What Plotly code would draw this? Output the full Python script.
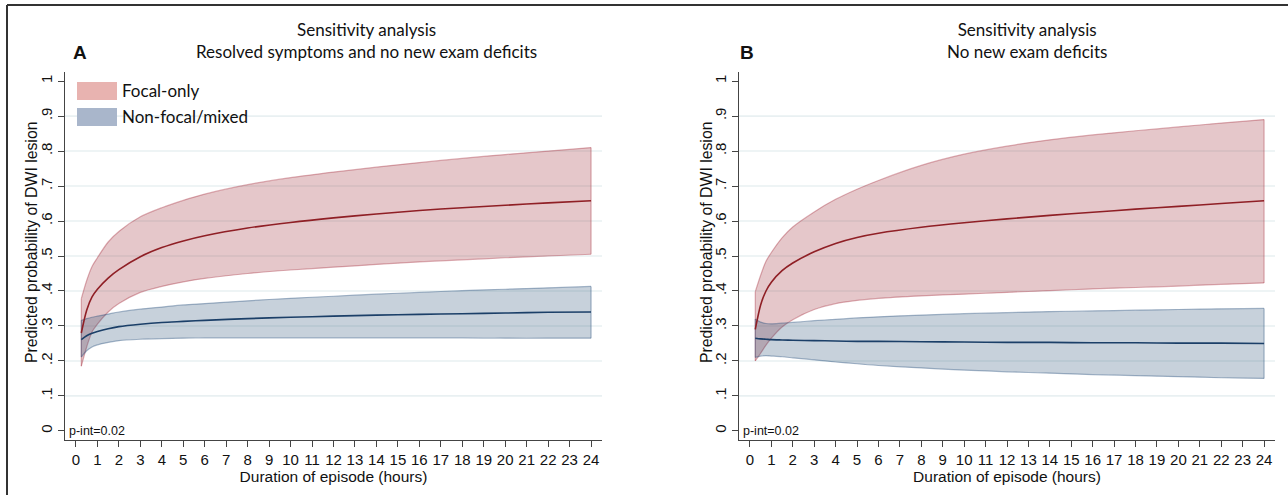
import plotly.graph_objects as go

# ---------------- data ----------------
hours = [0.25, 0.5, 0.75, 1, 1.5, 2, 3, 4, 5, 6, 8, 10, 12, 14, 16, 18, 20, 22, 24]

# Panel A: Resolved symptoms and no new exam deficits
a_focal_mid = [0.28, 0.345, 0.383, 0.405, 0.437, 0.461, 0.498, 0.524, 0.543, 0.558, 0.58, 0.596, 0.609, 0.62, 0.63, 0.638, 0.645, 0.652, 0.658]
a_focal_hi = [0.378, 0.43, 0.47, 0.495, 0.54, 0.57, 0.612, 0.638, 0.659, 0.677, 0.704, 0.724, 0.74, 0.754, 0.767, 0.779, 0.79, 0.80, 0.81]
a_focal_lo = [0.185, 0.24, 0.283, 0.305, 0.34, 0.364, 0.396, 0.413, 0.426, 0.436, 0.45, 0.46, 0.468, 0.476, 0.483, 0.489, 0.495, 0.50, 0.505]
a_nonf_mid = [0.261, 0.272, 0.279, 0.284, 0.292, 0.298, 0.305, 0.31, 0.313, 0.316, 0.321, 0.325, 0.328, 0.331, 0.333, 0.335, 0.337, 0.339, 0.34]
a_nonf_hi = [0.316, 0.321, 0.325, 0.328, 0.334, 0.34, 0.348, 0.354, 0.36, 0.364, 0.372, 0.379, 0.385, 0.391, 0.396, 0.401, 0.405, 0.409, 0.413]
a_nonf_lo = [0.211, 0.229, 0.24, 0.246, 0.253, 0.258, 0.262, 0.264, 0.265, 0.266, 0.266, 0.266, 0.266, 0.266, 0.266, 0.266, 0.265, 0.265, 0.265]

# Panel B: No new exam deficits
b_focal_mid = [0.29, 0.36, 0.40, 0.425, 0.458, 0.48, 0.512, 0.536, 0.553, 0.565, 0.582, 0.595, 0.606, 0.616, 0.625, 0.634, 0.642, 0.65, 0.658]
b_focal_hi = [0.398, 0.445, 0.485, 0.51, 0.552, 0.583, 0.626, 0.662, 0.691, 0.716, 0.759, 0.791, 0.814, 0.832, 0.846, 0.858, 0.869, 0.88, 0.89]
b_focal_lo = [0.20, 0.222, 0.245, 0.265, 0.297, 0.318, 0.347, 0.364, 0.373, 0.379, 0.386, 0.391, 0.396, 0.401, 0.406, 0.41, 0.414, 0.419, 0.423]
b_nonf_mid = [0.265, 0.263, 0.262, 0.261, 0.26, 0.259, 0.258, 0.257, 0.256, 0.256, 0.255, 0.254, 0.253, 0.253, 0.252, 0.252, 0.251, 0.251, 0.25]
b_nonf_hi = [0.32, 0.311, 0.307, 0.306, 0.308, 0.31, 0.315, 0.319, 0.323, 0.326, 0.331, 0.335, 0.338, 0.341, 0.343, 0.345, 0.347, 0.349, 0.35]
b_nonf_lo = [0.21, 0.214, 0.215, 0.214, 0.212, 0.209, 0.203, 0.197, 0.192, 0.187, 0.18, 0.174, 0.169, 0.165, 0.161, 0.158, 0.155, 0.152, 0.15]

x_ticks = list(range(0, 25))
y_tick_vals = [0, 0.1, 0.2, 0.3, 0.4, 0.5, 0.6, 0.7, 0.8, 0.9, 1]
y_tick_text = ["0", ".1", ".2", ".3", ".4", ".5", ".6", ".7", ".8", ".9", "1"]
grid_vals = [0.1, 0.2, 0.3, 0.4, 0.5, 0.6, 0.7, 0.8, 0.9]

panel_titles = ["Sensitivity analysis<br>Resolved symptoms and no new exam deficits",
                "Sensitivity analysis<br>No new exam deficits"]
panel_letters = ["A", "B"]
legend_names = ["Focal-only", "Non-focal/mixed"]
p_int_text = "p-int=0.02"
x_title = "Duration of episode (hours)"
y_title = "Predicted probability of DWI lesion"

# ---------------- styles ----------------
W, H = 1288, 495
RED_FILL = "rgba(150,30,45,0.25)"
RED_EDGE = "rgba(165,45,60,0.38)"
RED_LINE = "#8f1f25"
BLUE_FILL = "rgba(30,70,110,0.25)"
BLUE_EDGE = "rgba(40,80,125,0.40)"
BLUE_LINE = "#1b3f68"
AX_FONT = "Liberation Sans, Arial, sans-serif"
TITLE_FONT = "Lato, Calibri, sans-serif"

fig = go.Figure()


def band(xa, ya, lo, hi, fill, edge):
    fig.add_trace(go.Scatter(
        x=hours, y=lo, mode="lines", line=dict(color=edge, width=1.2, shape="spline", smoothing=0.8),
        xaxis=xa, yaxis=ya, hoverinfo="skip", showlegend=False))
    fig.add_trace(go.Scatter(
        x=hours, y=hi, mode="lines", fill="tonexty", fillcolor=fill,
        line=dict(color=edge, width=1.2, shape="spline", smoothing=0.8),
        xaxis=xa, yaxis=ya, hoverinfo="skip", showlegend=False))


def band_ends(xa, ya, lo, hi, edge):
    for i in (0, -1):
        fig.add_trace(go.Scatter(
            x=[hours[i], hours[i]], y=[lo[i], hi[i]], mode="lines",
            line=dict(color=edge, width=1.2), xaxis=xa, yaxis=ya,
            hoverinfo="skip", showlegend=False))


def line(xa, ya, mid, color):
    fig.add_trace(go.Scatter(
        x=hours, y=mid, mode="lines", line=dict(color=color, width=1.6, shape="spline", smoothing=0.8),
        xaxis=xa, yaxis=ya, hoverinfo="skip", showlegend=False))


for xa, ya, fl, fm, fh, nl, nm, nh in [
        ("x", "y", a_focal_lo, a_focal_mid, a_focal_hi, a_nonf_lo, a_nonf_mid, a_nonf_hi),
        ("x2", "y2", b_focal_lo, b_focal_mid, b_focal_hi, b_nonf_lo, b_nonf_mid, b_nonf_hi)]:
    band(xa, ya, fl, fh, RED_FILL, RED_EDGE)
    band(xa, ya, nl, nh, BLUE_FILL, BLUE_EDGE)
    band_ends(xa, ya, fl, fh, RED_EDGE)
    band_ends(xa, ya, nl, nh, BLUE_EDGE)
    line(xa, ya, fm, RED_LINE)
    line(xa, ya, nm, BLUE_LINE)

y_dom = [55 / H, 423 / H]
xdomA = [65 / W, 602 / W]
xdomB = [739 / W, 1275 / W]

common_x = dict(range=[-0.51, 24.51], tickmode="array", tickvals=x_ticks,
                showline=True, linecolor="#444", linewidth=1.2, ticks="outside",
                ticklen=6, tickcolor="#444", tickwidth=1.2, showgrid=False, zeroline=False,
                tickfont=dict(family=AX_FONT, size=15, color="#111"),
                title=dict(text=x_title, font=dict(family=AX_FONT, size=15.5, color="#111"), standoff=0))
common_y = dict(range=[-0.026, 1.026], tickmode="array", tickvals=y_tick_vals, ticktext=y_tick_text,
                tickangle=-90, showline=True, linecolor="#444", linewidth=1.2, ticks="outside",
                ticklen=6, tickcolor="#444", tickwidth=1.2, showgrid=False, zeroline=False,
                tickfont=dict(family=AX_FONT, size=15, color="#111"))

fig.update_layout(
    width=W, height=H, autosize=False, template="none",
    margin=dict(l=0, r=0, t=0, b=0),
    paper_bgcolor="white", plot_bgcolor="white", showlegend=False,
    xaxis=dict(domain=xdomA, anchor="y", **common_x),
    yaxis=dict(domain=y_dom, anchor="x", **common_y),
    xaxis2=dict(domain=xdomB, anchor="y2", **common_x),
    yaxis2=dict(domain=y_dom, anchor="x2", **common_y),
)

shapes = []
for ax in ["", "2"]:
    for g in grid_vals:
        shapes.append(dict(type="line", xref="x" + ax + " domain", yref="y" + ax,
                           x0=0, x1=1, y0=g, y1=g, layer="below",
                           line=dict(color="#e9f0f2", width=1.6)))

# outer frame (top and left)
shapes.append(dict(type="line", xref="paper", yref="paper", x0=7 / W, x1=1, y0=1 - 5 / H, y1=1 - 5 / H,
                   line=dict(color="#333", width=2)))
shapes.append(dict(type="line", xref="paper", yref="paper", x0=7 / W, x1=7 / W, y0=0, y1=1 - 5 / H,
                   line=dict(color="#333", width=2)))

# legend swatches (panel A)
swatch_colors = ["#e8b3b0", "#a9b6cb"]
swatch_y = [(82, 100), (108, 126)]
for c, (t, b) in zip(swatch_colors, swatch_y):
    shapes.append(dict(type="rect", xref="paper", yref="paper", x0=77 / W, x1=117 / W,
                       y0=1 - b / H, y1=1 - t / H, fillcolor=c, line=dict(width=0), layer="above"))

annotations = []
title_cx = [366, 1027]
letter_cx = [80, 747]
ytitle_cx = [31, 706]
for i in range(2):
    annotations.append(dict(text=panel_titles[i], xref="paper", yref="paper", x=title_cx[i] / W, y=1 - 41 / H,
                            xanchor="center", yanchor="middle", showarrow=False, align="center",
                            font=dict(family=TITLE_FONT, size=17, color="#111")))
    annotations.append(dict(text="<b>" + panel_letters[i] + "</b>", xref="paper", yref="paper",
                            x=letter_cx[i] / W, y=1 - 52 / H, xanchor="center", yanchor="middle",
                            showarrow=False, font=dict(family=AX_FONT, size=19, color="#111")))
    annotations.append(dict(text=y_title, xref="paper", yref="paper", x=ytitle_cx[i] / W, y=1 - 243 / H,
                            xanchor="center", yanchor="middle", textangle=-90, showarrow=False,
                            font=dict(family=AX_FONT, size=15.8, color="#111")))
    axs = "" if i == 0 else "2"
    annotations.append(dict(text=p_int_text, xref="x" + axs + " domain", yref="y" + axs,
                            x=0.003, y=0, xanchor="left", yanchor="middle", showarrow=False,
                            font=dict(family=AX_FONT, size=12.5, color="#111")))

for name, (t, b) in zip(legend_names, swatch_y):
    annotations.append(dict(text=name, xref="paper", yref="paper", x=120 / W, y=1 - (t + b) / 2 / H,
                            xanchor="left", yanchor="middle", showarrow=False,
                            font=dict(family=TITLE_FONT, size=17, color="#111")))

fig.update_layout(shapes=shapes, annotations=annotations)
fig.write_html("out.html")
